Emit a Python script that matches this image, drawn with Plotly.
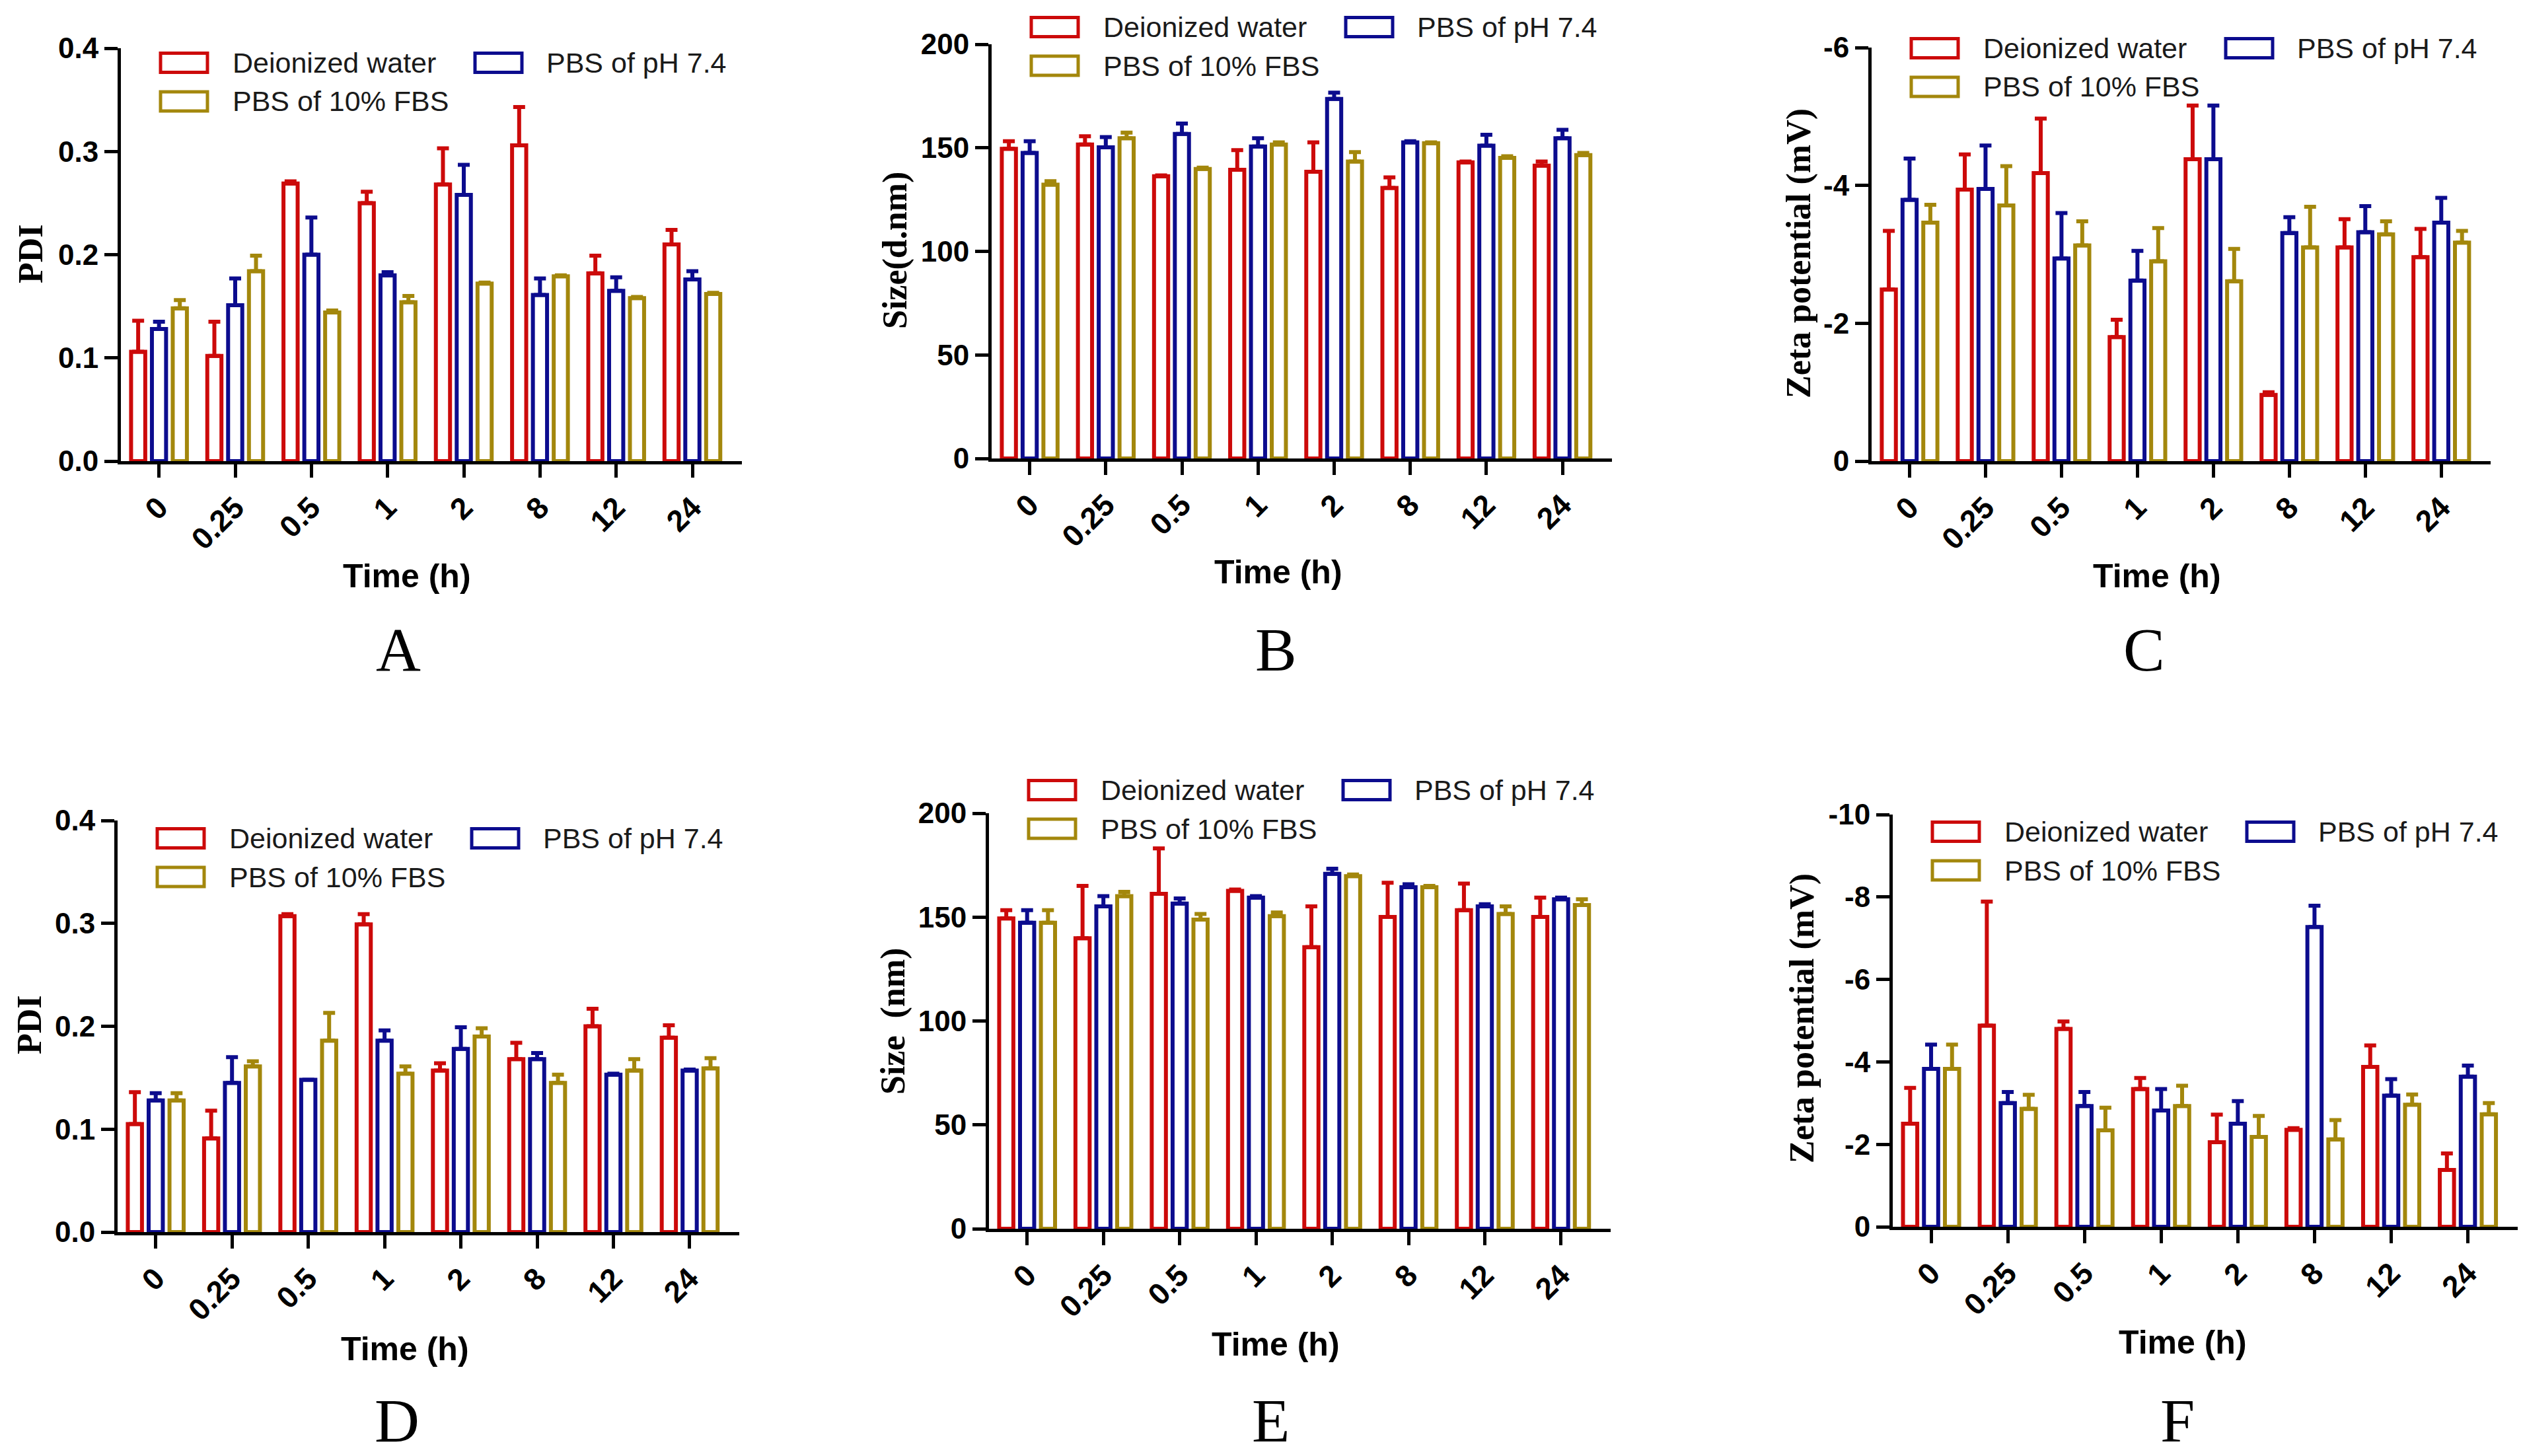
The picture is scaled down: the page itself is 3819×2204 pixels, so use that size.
import plotly.graph_objects as go

W, H = 3819, 2204

# ---------------- data ----------------
time_labels = ["0", "0.25", "0.5", "1", "2", "8", "12", "24"]
series_names = ["Deionized water", "PBS of pH 7.4", "PBS of 10% FBS"]

# Panel A (PDI)
A_water = [0.106, 0.102, 0.269, 0.250, 0.268, 0.306, 0.182, 0.210]
A_water_err = [0.030, 0.033, 0.002, 0.011, 0.035, 0.037, 0.017, 0.014]
A_pbs = [0.128, 0.151, 0.200, 0.180, 0.258, 0.161, 0.165, 0.176]
A_pbs_err = [0.007, 0.026, 0.036, 0.003, 0.029, 0.016, 0.013, 0.008]
A_fbs = [0.148, 0.184, 0.144, 0.154, 0.172, 0.179, 0.158, 0.162]
A_fbs_err = [0.008, 0.015, 0.002, 0.006, 0.001, 0.001, 0.001, 0.001]

# Panel B (Size d.nm)
B_water = [149.5, 151.6, 136.3, 139.4, 138.4, 130.6, 143.0, 141.4]
B_water_err = [3.7, 4.0, 0.4, 9.5, 14.2, 5.1, 0.4, 2.0]
B_pbs = [147.5, 150.2, 156.7, 150.6, 173.6, 152.6, 151.0, 154.6]
B_pbs_err = [5.7, 5.0, 5.0, 4.0, 3.0, 0.6, 5.3, 4.1]
B_fbs = [132.2, 154.6, 139.8, 151.6, 143.4, 152.2, 145.1, 146.5]
B_fbs_err = [1.7, 2.7, 0.6, 1.0, 4.5, 0.4, 0.8, 1.0]

# Panel C (Zeta potential mV)
C_water = [-2.49, -3.94, -4.18, -1.80, -4.38, -0.96, -3.10, -2.96]
C_water_err = [0.85, 0.51, 0.79, 0.25, 0.78, 0.04, 0.41, 0.41]
C_pbs = [-3.79, -3.95, -2.94, -2.62, -4.38, -3.31, -3.32, -3.46]
C_pbs_err = [0.60, 0.63, 0.66, 0.43, 0.78, 0.23, 0.38, 0.36]
C_fbs = [-3.46, -3.71, -3.13, -2.90, -2.61, -3.10, -3.29, -3.17]
C_fbs_err = [0.26, 0.57, 0.35, 0.48, 0.47, 0.59, 0.19, 0.17]

# Panel D (PDI)
D_water = [0.105, 0.091, 0.307, 0.299, 0.157, 0.168, 0.200, 0.189]
D_water_err = [0.031, 0.027, 0.002, 0.010, 0.007, 0.016, 0.017, 0.012]
D_pbs = [0.128, 0.145, 0.148, 0.186, 0.178, 0.168, 0.153, 0.157]
D_pbs_err = [0.007, 0.025, 0.0, 0.010, 0.021, 0.006, 0.001, 0.001]
D_fbs = [0.128, 0.161, 0.186, 0.154, 0.190, 0.145, 0.157, 0.159]
D_fbs_err = [0.007, 0.005, 0.027, 0.007, 0.008, 0.008, 0.011, 0.010]

# Panel E (Size nm)
E_water = [149.4, 139.8, 161.2, 162.6, 135.5, 150.1, 153.3, 150.1]
E_water_err = [3.9, 25.2, 21.9, 0.7, 19.7, 16.4, 12.8, 9.3]
E_pbs = [147.3, 155.2, 156.5, 159.4, 170.8, 164.4, 155.2, 158.6]
E_pbs_err = [6.0, 4.9, 2.5, 0.7, 2.5, 1.4, 1.0, 0.8]
E_fbs = [147.3, 160.1, 148.8, 150.5, 169.7, 164.4, 151.5, 155.8]
E_fbs_err = [6.0, 2.1, 2.7, 1.7, 0.8, 0.6, 3.7, 2.8]

# Panel F (Zeta potential mV)
F_water = [-2.50, -4.88, -4.80, -3.34, -2.05, -2.35, -3.88, -1.38]
F_water_err = [0.87, 3.01, 0.18, 0.27, 0.67, 0.04, 0.52, 0.40]
F_pbs = [-3.83, -3.00, -2.93, -2.82, -2.50, -7.27, -3.18, -3.64]
F_pbs_err = [0.59, 0.27, 0.34, 0.52, 0.55, 0.52, 0.40, 0.27]
F_fbs = [-3.83, -2.86, -2.34, -2.93, -2.18, -2.12, -2.96, -2.73]
F_fbs_err = [0.59, 0.34, 0.55, 0.49, 0.51, 0.47, 0.25, 0.27]

# tick labels
pdi_ticks = [0, 0.1, 0.2, 0.3, 0.4]
pdi_ticktext = ["0.0", "0.1", "0.2", "0.3", "0.4"]
size_ticks = [0, 50, 100, 150, 200]
size_ticktext = ["0", "50", "100", "150", "200"]
zetaC_ticks = [0, -2, -4, -6]
zetaC_ticktext = ["0", "-2", "-4", "-6"]
zetaF_ticks = [0, -2, -4, -6, -8, -10]
zetaF_ticktext = ["0", "-2", "-4", "-6", "-8", "-10"]

# ---------------- styling ----------------
colors = ["#CC0A0A", "#0C0C8E", "#A3870C"]
SANS = "Liberation Sans, Arial, sans-serif"
SERIF = "Liberation Serif, Times New Roman, serif"

panels = [
    dict(data=[(A_water, A_water_err), (A_pbs, A_pbs_err), (A_fbs, A_fbs_err)],
         ylabel="PDI", yrange=[0, 0.4], tv=pdi_ticks, tt=pdi_ticktext,
         box=(175, 1115, 65, 690), neg=False, letter="A",
         yt=(38, 376), xt=(608, 864), lt=(595, 975), leg=87),
    dict(data=[(B_water, B_water_err), (B_pbs, B_pbs_err), (B_fbs, B_fbs_err)],
         ylabel="Size(d.nm)", yrange=[0, 200], tv=size_ticks, tt=size_ticktext,
         box=(1493, 2432, 59, 686), neg=False, letter="B",
         yt=(1347, 371), xt=(1927, 858), lt=(1923, 975), leg=33),
    dict(data=[(C_water, C_water_err), (C_pbs, C_pbs_err), (C_fbs, C_fbs_err)],
         ylabel="Zeta potential (mV)", yrange=[0, -6], tv=zetaC_ticks, tt=zetaC_ticktext,
         box=(2825, 3762, 64, 690), neg=True, letter="C",
         yt=(2715, 376), xt=(3257, 864), lt=(3237, 975), leg=65),
    dict(data=[(D_water, D_water_err), (D_pbs, D_pbs_err), (D_fbs, D_fbs_err)],
         ylabel="PDI", yrange=[0, 0.4], tv=pdi_ticks, tt=pdi_ticktext,
         box=(170, 1111, 1234, 1857), neg=False, letter="D",
         yt=(36, 1543), xt=(605, 2034), lt=(593, 2142), leg=1261),
    dict(data=[(E_water, E_water_err), (E_pbs, E_pbs_err), (E_fbs, E_fbs_err)],
         ylabel="Size\u00a0\u00a0(nm)", yrange=[0, 200], tv=size_ticks, tt=size_ticktext,
         box=(1489, 2430, 1223, 1852), neg=False, letter="E",
         yt=(1344, 1538), xt=(1923, 2027), lt=(1915, 2142), leg=1188),
    dict(data=[(F_water, F_water_err), (F_pbs, F_pbs_err), (F_fbs, F_fbs_err)],
         ylabel="Zeta potential (mV)", yrange=[0, -10], tv=zetaF_ticks, tt=zetaF_ticktext,
         box=(2857, 3803, 1225, 1849), neg=True, letter="F",
         yt=(2720, 1534), xt=(3296, 2024), lt=(3288, 2142), leg=1251),
]


def px(x):
    return x / W


def py(y):
    return 1 - y / H


fig = go.Figure()
layout = dict(
    width=W, height=H,
    margin=dict(l=0, r=0, t=0, b=0, autoexpand=False),
    paper_bgcolor="white", plot_bgcolor="white",
    showlegend=False,
    barmode="group", bargap=0.18, bargroupgap=0.32,
    font=dict(family=SANS, color="black"),
)
annotations = []
shapes = []

for i, p in enumerate(panels):
    n = "" if i == 0 else str(i + 1)
    xa, ya = "x" + n, "y" + n
    l, r, t, b = p["box"]
    for (vals, errs), c in zip(p["data"], colors):
        zeros = [0] * len(errs)
        ey = dict(type="data", symmetric=False, color=c, thickness=6, width=9)
        if p["neg"]:
            ey.update(array=zeros, arrayminus=errs)
        else:
            ey.update(array=errs, arrayminus=zeros)
        fig.add_trace(go.Bar(
            x=time_labels, y=vals, xaxis=xa, yaxis=ya,
            marker=dict(color="white", line=dict(color=c, width=6)),
            error_y=ey, showlegend=False, hoverinfo="skip",
        ))
    layout["xaxis" + n] = dict(
        domain=[px(l), px(r)], anchor=ya, type="category", automargin=False,
        range=[-0.5, 7.65], showline=True, linecolor="black", linewidth=5,
        ticks="outside", ticklen=20, tickwidth=5, tickcolor="black",
        tickangle=-45, showgrid=False, zeroline=False,
        tickfont=dict(family=SANS, size=46, weight="bold", color="black"),
    )
    layout["yaxis" + n] = dict(
        domain=[py(b), py(t)], anchor=xa, range=p["yrange"], automargin=False,
        tickvals=p["tv"], ticktext=p["tt"],
        showline=True, linecolor="black", linewidth=5,
        ticks="outside", ticklen=20, tickwidth=5, tickcolor="black",
        showgrid=False, zeroline=False,
        tickfont=dict(family=SANS, size=44, weight="bold", color="black"),
    )
    annotations.append(dict(
        text="<b>%s</b>" % p["ylabel"], x=px(p["yt"][0]), y=py(p["yt"][1]),
        xref="paper", yref="paper", showarrow=False, textangle=-90,
        xanchor="center", yanchor="middle",
        font=dict(family=SERIF, size=52, color="black")))
    annotations.append(dict(
        text="<b>Time (h)</b>", x=px(p["xt"][0]), y=py(p["xt"][1]),
        xref="paper", yref="paper", showarrow=False,
        xanchor="center", yanchor="middle",
        font=dict(family=SANS, size=50, color="black")))
    annotations.append(dict(
        text=p["letter"], x=px(p["lt"][0]), y=py(p["lt"][1]),
        xref="paper", yref="paper", showarrow=False,
        xanchor="center", yanchor="middle",
        font=dict(family=SERIF, size=94, color="black")))
    row1 = p["leg"]
    row2 = row1 + 58.5
    entries = [(0, l + 60, l + 167, row1), (1, l + 536, l + 642, row1), (2, l + 60, l + 167, row2)]
    for k, sx, tx, cy in entries:
        shapes.append(dict(
            type="rect", xref="paper", yref="paper",
            x0=px(sx), x1=px(sx + 71), y0=py(cy + 14.5), y1=py(cy - 14.5),
            line=dict(color=colors[k], width=5), fillcolor="white"))
        annotations.append(dict(
            text=series_names[k], x=px(tx), y=py(cy),
            xref="paper", yref="paper", showarrow=False,
            xanchor="left", yanchor="middle",
            font=dict(family=SANS, size=43, color="#1a1a1a")))

layout["annotations"] = annotations
layout["shapes"] = shapes
fig.update_layout(**layout)
fig.write_html("out.html")
